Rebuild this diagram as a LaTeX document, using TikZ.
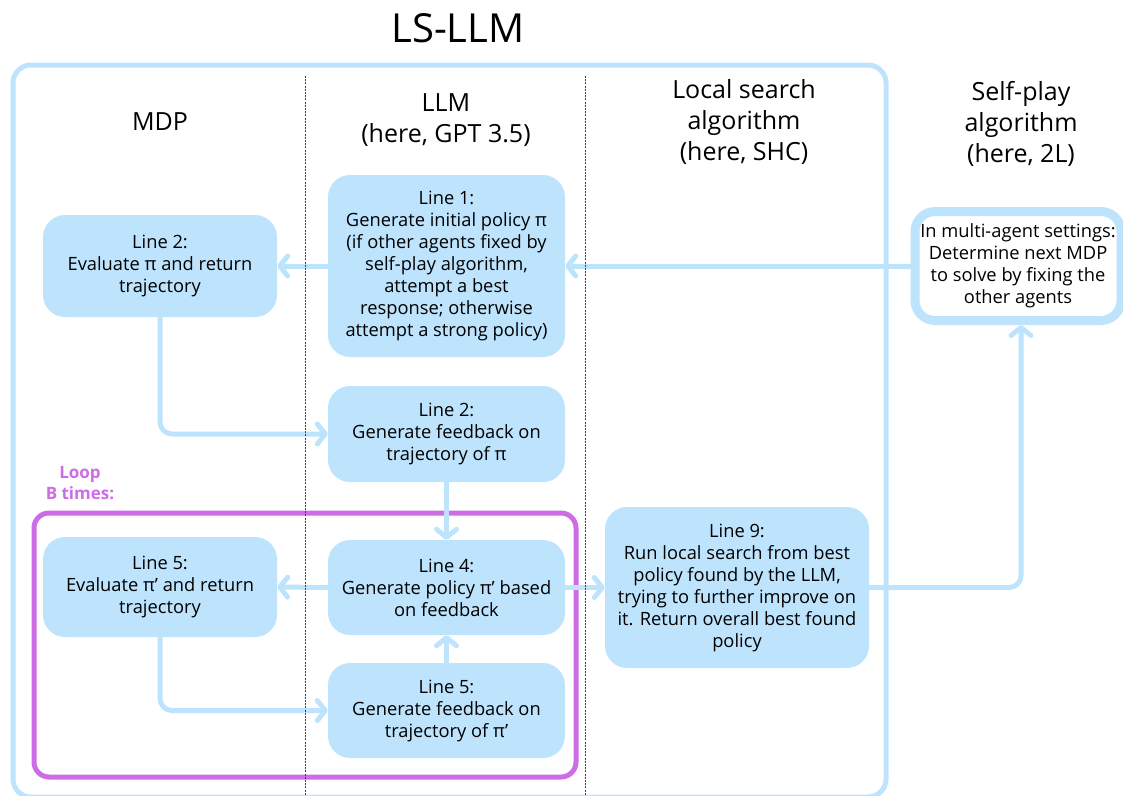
\documentclass[tikz,border=0pt]{standalone}
\usepackage{fontspec}
\setmainfont{Open Sans}
\usetikzlibrary{arrows.meta}
\definecolor{lb}{RGB}{190,228,253}
\definecolor{lp}{RGB}{206,108,230}
\definecolor{dashc}{RGB}{60,60,60}
\newcommand{\bodyfont}{\fontsize{18.3}{22}\selectfont}
\newcommand{\headfont}{\fontsize{25}{31}\selectfont}
\begin{document}
\begin{tikzpicture}[x=1pt,y=-1pt,
  box/.style={fill=lb, rounded corners=22pt, align=center, font=\bodyfont, inner sep=0pt},
  head/.style={align=center, font=\headfont, inner sep=0pt},
  arr/.style={draw=lb, line width=5pt, rounded corners=12pt, -{Straight Barb[length=8pt,width=20pt,round]}},
  frame/.style={draw=lb, line width=5pt, rounded corners=18pt},
  divider/.style={draw=dashc, line width=0.8pt, dash pattern=on 2pt off 1.2pt}
]
\useasboundingbox (0,0) rectangle (1123,795);

% title
\node[font=\fontsize{40}{48}\selectfont, inner sep=0pt] (title) at (458,28) {LS-LLM};

% outer frame
\draw[frame] (13,65) rectangle (886,797);

% headers
\node[head] (hmdp) at (160,122) {MDP};
\node[head] (hllm) at (446,120) {LLM\\(here, GPT 3.5)};
\node[head] (hls) at (744,122) {Local search\\algorithm\\(here, SHC)};
\node[head] (hsp) at (1021,124) {Self-play\\algorithm\\(here, 2L)};

% boxes
\node[box, minimum width=234pt, minimum height=102pt] (mdp2) at (160,266)
  {Line 2:\\Evaluate π and return\\trajectory};
\node[box, minimum width=237pt, minimum height=182pt] (l1) at (446.5,266)
  {Line 1:\\Generate initial policy π\\(if other agents fixed by\\self-play algorithm,\\attempt a best\\response; otherwise\\attempt a strong policy)};
\node[box, minimum width=237pt, minimum height=96pt] (fb2) at (446.5,434)
  {Line 2:\\Generate feedback on\\trajectory of π};
\node[box, minimum width=237pt, minimum height=95pt] (l4) at (446.5,587.5)
  {Line 4:\\Generate policy π’ based\\on feedback};
\node[box, minimum width=237pt, minimum height=95pt] (fb5) at (446.5,710.5)
  {Line 5:\\Generate feedback on\\trajectory of π’};
\node[box, minimum width=234pt, minimum height=100pt] (mdp5) at (160,587)
  {Line 5:\\Evaluate π’ and return\\trajectory};
\node[box, minimum width=264pt, minimum height=161pt] (l9) at (737,587.5)
  {Line 9:\\Run local search from best\\policy found by the LLM,\\trying to further improve on\\it. Return overall best found\\policy};
\node[draw=lb, line width=9pt, fill=white, rounded corners=20pt, align=center, font=\bodyfont,
      inner sep=0pt, minimum width=206pt, minimum height=109pt] (sp) at (1018,266)
  {In multi-agent settings:\\Determine next MDP\\to solve by fixing the\\other agents};

% loop frame
\draw[draw=lp, line width=5pt, rounded corners=15pt] (34,513) rectangle (576,777);
\node[text=lp, font=\bfseries\fontsize{17}{21}\selectfont, align=center, inner sep=0pt] (loop) at (80,483) {Loop\\B times:};

% arrows
\draw[arr] (sp.west |- l1.east) -- (l1.east);
\draw[arr] (l1.west) -- (mdp2.east);
\draw[arr] (mdp2.south) |- (fb2.west);
\draw[arr] (fb2.south) -- (l4.north);
\draw[arr] (l4.west) -- (mdp5.east);
\draw[arr] (mdp5.south) |- (fb5.west);
\draw[arr] (fb5.north) -- (l4.south);
\draw[arr] (l4.east) -- (l9.west);
\draw[arr] (l9.east) -| ([xshift=3pt]sp.south);

% dividers
\draw[divider] (305,76) -- (305,795);
\draw[divider] (585,76) -- (585,795);
\end{tikzpicture}
\end{document}
